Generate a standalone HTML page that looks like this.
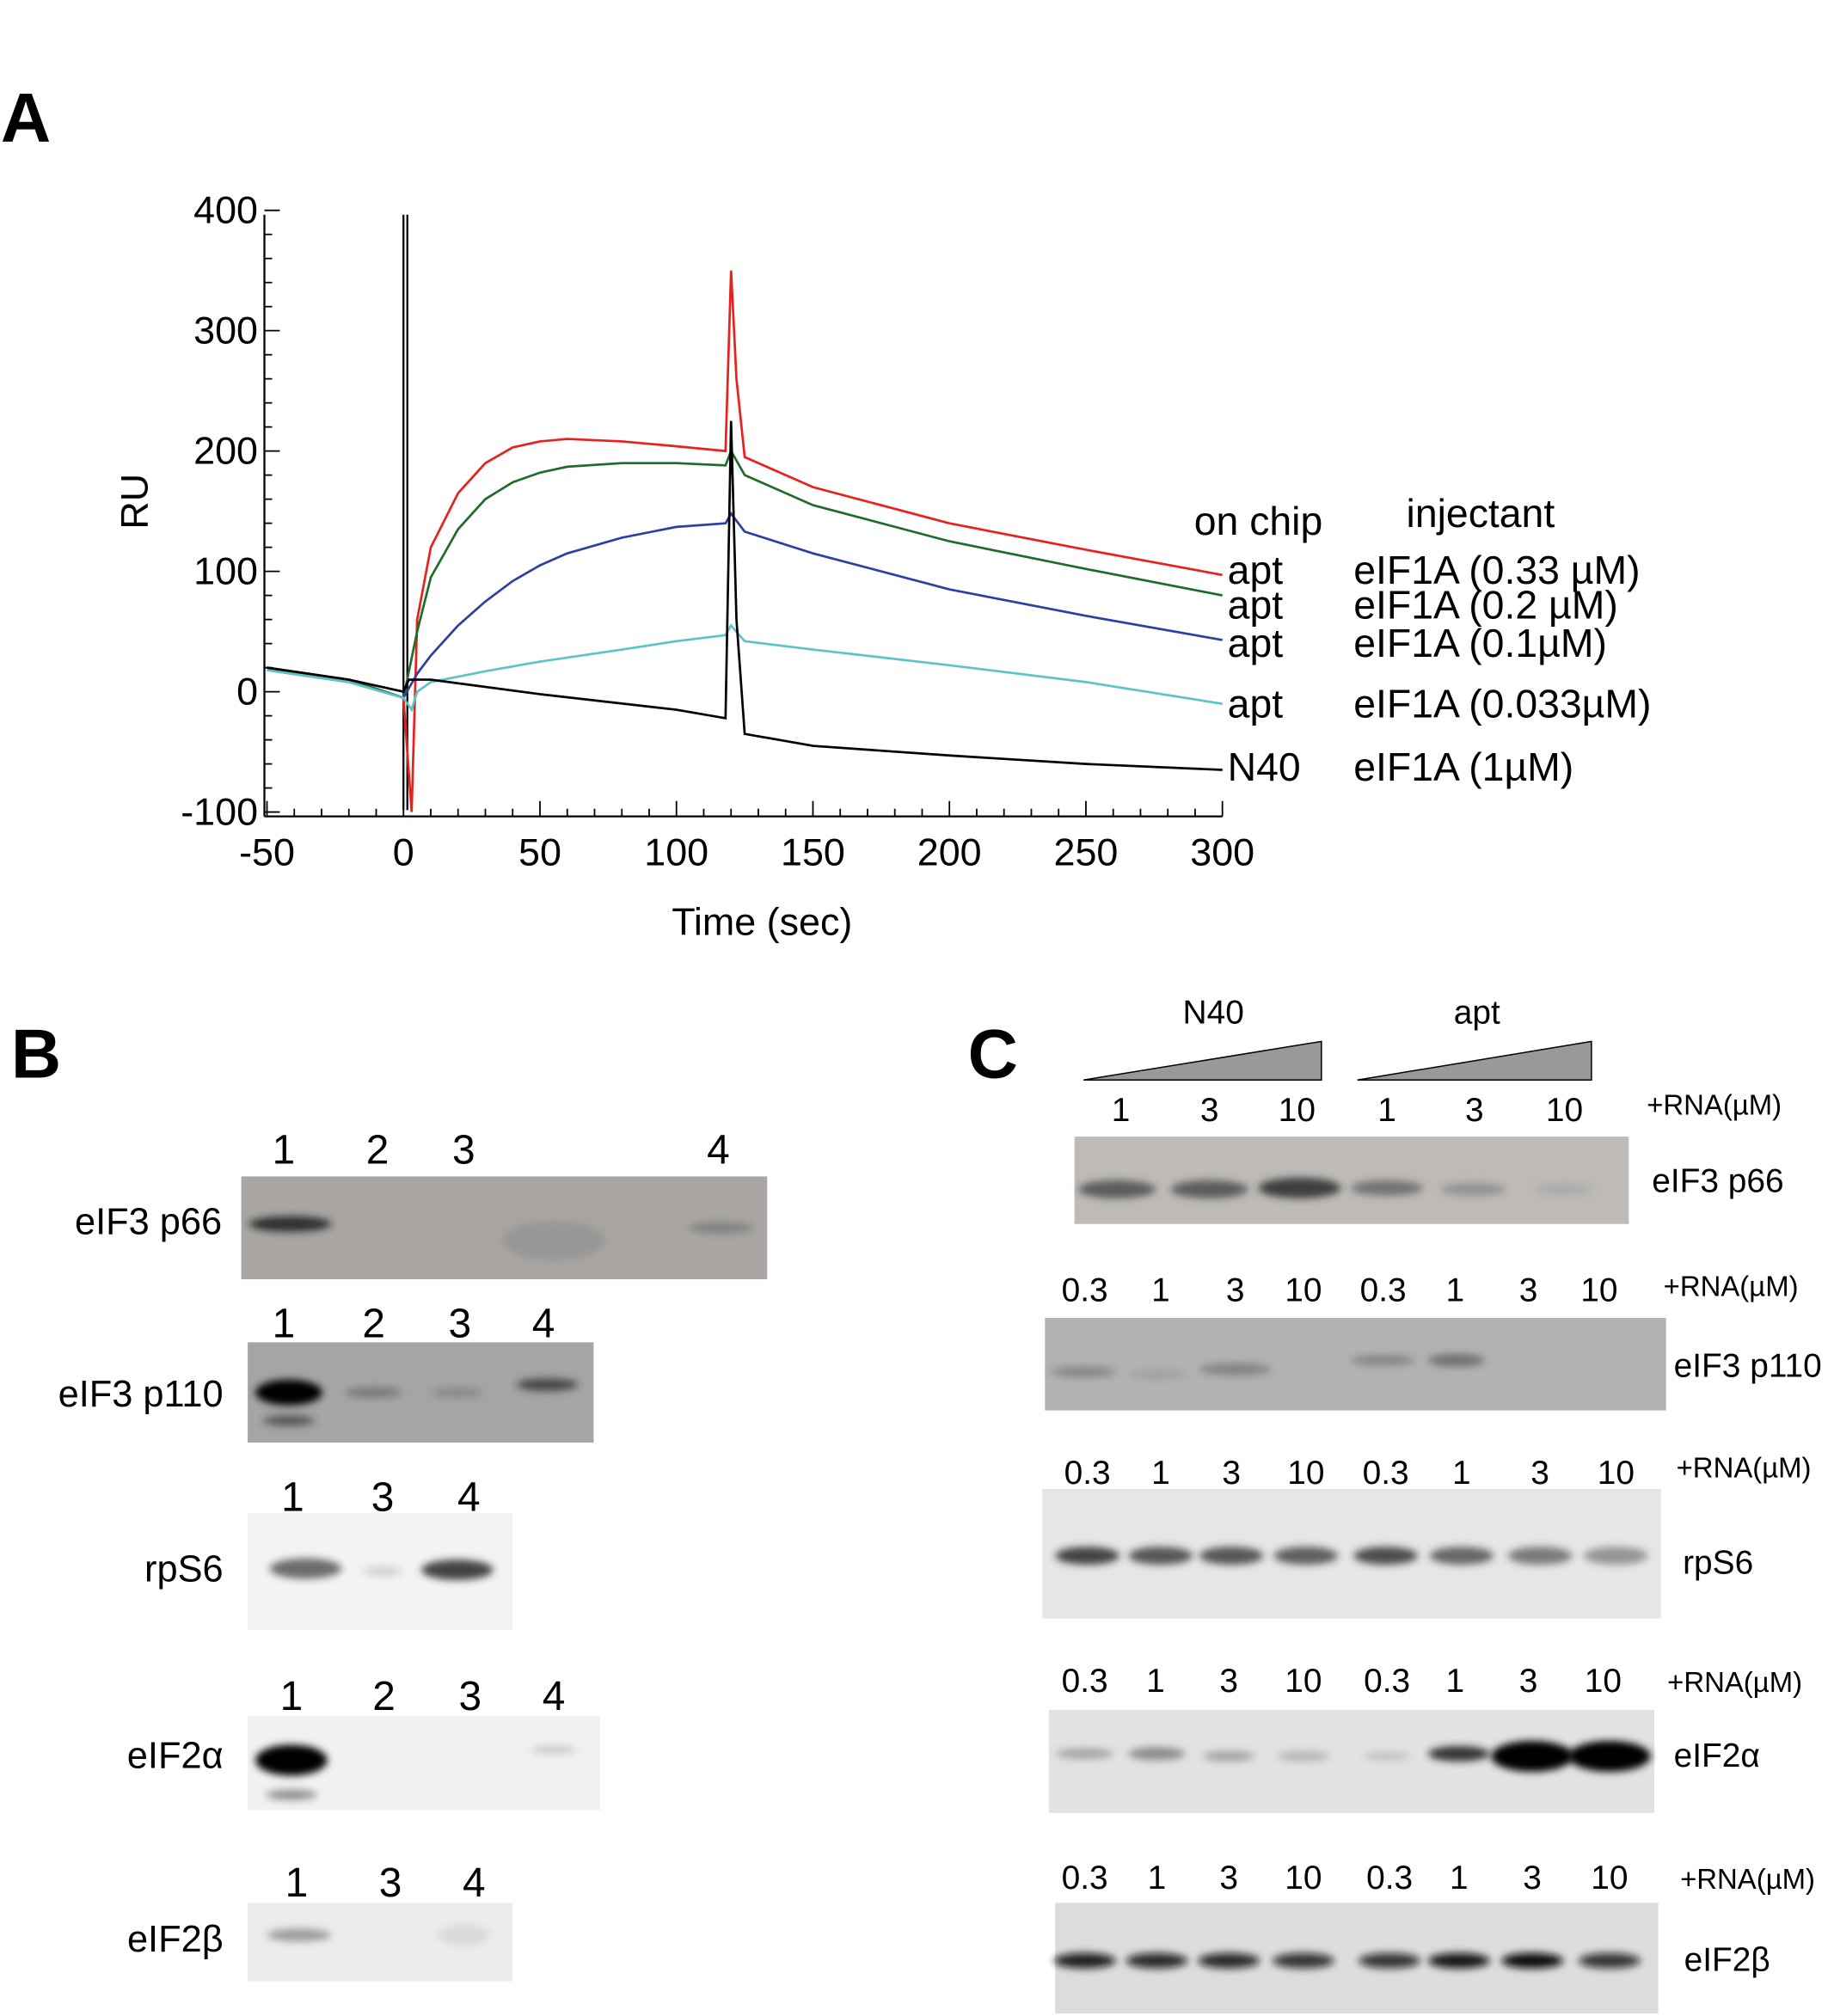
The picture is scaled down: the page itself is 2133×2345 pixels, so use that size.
<!DOCTYPE html>
<html><head><meta charset="utf-8"><style>
html,body{margin:0;padding:0;background:#fff;}
svg{display:block;font-family:"Liberation Sans",sans-serif;}
</style></head><body>
<svg id="fig" width="2133" height="2345" viewBox="0 0 1425 1568" xmlns="http://www.w3.org/2000/svg">
<defs>
<filter id="blur" x="-50%" y="-100%" width="200%" height="300%"><feGaussianBlur stdDeviation="3"/></filter>
</defs>
<text x="0" y="110" font-size="54" font-weight="bold">A</text>
<g id="chartA"></g>

<text x="8" y="838" font-size="54" font-weight="bold">B</text>
<text x="752" y="838" font-size="54" font-weight="bold">C</text>
<g id="blots"></g>
</svg>
<script>
const NS='http://www.w3.org/2000/svg';
function mk(tag,attrs,parent,txt){const e=document.createElementNS(NS,tag);for(const k in attrs)e.setAttribute(k,attrs[k]);if(txt!==undefined)e.textContent=txt;parent.appendChild(e);return e;}

// ---- chart data ----
const xTicks=[-50,0,50,100,150,200,250,300];
const yTicks=[-100,0,100,200,300,400];
const tRed=[-50,-20,0,3,5,10,20,30,40,50,60,80,100,118,120,122,125,150,200,250,300];
const vRed=[20,10,-5,-100,60,120,165,190,203,208,210,208,204,200,350,260,195,170,140,118,97];
const tGreen=[-50,-20,0,5,10,20,30,40,50,60,80,100,118,120,125,150,200,250,300];
const vGreen=[20,10,-5,50,95,135,160,174,182,187,190,190,188,200,180,155,125,102,80];
const tBlue=[-50,-20,0,5,10,20,30,40,50,60,80,100,118,120,125,150,200,250,300];
const vBlue=[18,8,-5,15,30,55,75,92,105,115,128,137,140,148,133,115,85,63,43];
const tCyan=[-50,-20,0,3,5,10,30,50,80,100,118,120,125,150,200,250,300];
const vCyan=[18,8,-5,-15,0,8,17,25,35,42,47,55,42,35,22,8,-10];
const tBlack=[-50,-20,0,2,10,50,100,118,120,122,125,150,200,250,300];
const vBlack=[20,10,0,10,10,-2,-15,-22,225,60,-35,-45,-53,-60,-65];
const seriesNames=['red-trace','green-trace','blue-trace','cyan-trace','black-trace'];
const seriesColors=['#e8211d','#1f6b2a','#2d3fa0','#5cc4c8','#000'];
const seriesT=[tRed,tGreen,tBlue,tCyan,tBlack];
const seriesV=[vRed,vGreen,vBlue,vCyan,vBlack];
const chipLabels=['apt','apt','apt','apt','N40'];
const injLabels=['eIF1A (0.33 \u00b5M)','eIF1A (0.2 \u00b5M)','eIF1A (0.1\u00b5M)','eIF1A (0.033\u00b5M)','eIF1A (1\u00b5M)'];
const labelY=[444,471,501,548,597];

const X=t=>207+(t+50)*(743/350);
const Y=v=>538-0.936*v;
const g=document.getElementById('chartA');

const ax=mk('line',{x1:205,y1:635,x2:950,y2:635,stroke:'#000','stroke-width':1.5},g);

const ay=mk('line',{x1:205,y1:167,x2:205,y2:635,stroke:'#000','stroke-width':1.5},g);

for(let t=-50;t<=300;t+=10){mk('line',{x1:X(t),y1:635,x2:X(t),y2:t%50===0?623:629,stroke:'#000','stroke-width':1.2},g);}
for(let v=-100;v<=400;v+=20){mk('line',{x1:205,y1:Y(v),x2:v%100===0?217:211,y2:Y(v),stroke:'#000','stroke-width':1.2},g);}
xTicks.forEach(t=>{const e=mk('text',{x:X(t),y:673,'font-size':30,'text-anchor':'middle'},g,String(t));
});
yTicks.forEach(v=>{const e=mk('text',{x:200,y:Y(v)+10,'font-size':30,'text-anchor':'end'},g,String(v));
});
const xt=mk('text',{x:592,y:727,'font-size':30,'text-anchor':'middle'},g,'Time (sec)');

const yt=mk('text',{x:0,y:0,'font-size':30,'text-anchor':'middle',transform:'translate(114,390) rotate(-90)'},g,'RU');


mk('line',{x1:X(0),y1:167,x2:X(0),y2:630,stroke:'#000','stroke-width':1.5},g);
mk('line',{x1:X(0)+3,y1:167,x2:X(0)+3,y2:630,stroke:'#000','stroke-width':1.5},g);

for(let i=0;i<5;i++){
  const d=seriesT[i].map((t,j)=>(j?'L':'M')+X(t).toFixed(1)+','+Y(seriesV[i][j]).toFixed(1)).join(' ');
  const p=mk('path',{d:d,fill:'none',stroke:seriesColors[i],'stroke-width':1.8},g);
  
  
  const c=mk('text',{x:954,y:labelY[i]+10,'font-size':31},g,chipLabels[i]);
  
  
  const inj=mk('text',{x:1052,y:labelY[i]+10,'font-size':31},g,injLabels[i]);
  
  
}
const h1=mk('text',{x:928,y:416,'font-size':31},g,'on chip');

const h2=mk('text',{x:1093,y:410,'font-size':31},g,'injectant');


// ---- blots ----
const b=document.getElementById('blots');
function blot(name,x,y,w,h,bg,bands){
  const grp=mk('g',{},b);
  
  
  mk('rect',{x:x,y:y,width:w,height:h,fill:bg},grp);
  bands.forEach(bd=>{mk('ellipse',{cx:bd[0],cy:bd[1],rx:bd[2],ry:bd[3],fill:bd[4],opacity:bd[5],filter:'url(#blur)'},grp);});
}
function txt(s,x,y,size,name,anchor){const e=mk('text',{x:x,y:y,'font-size':size,'text-anchor':anchor||'start'},b,s);
}

blot('blot-b-p66',187,915,409,80,'#a8a5a2',[[225,952,32,6,'#222',0.9],[430,965,40,15,'#888',0.5],[560,955,25,4,'#666',0.6]]);
txt('eIF3 p66',172,960,29,'row-label','end');
[['1',220],['2',293],['3',360],['4',558]].forEach(l=>txt(l[0],l[1],905,32,'lane-label','middle'));
blot('blot-b-p110',192,1044,269,78,'#a6a5a3',[[224,1083,26,10,'#000',1],[224,1105,20,4,'#333',0.7],[290,1083,22,4,'#666',0.7],[355,1083,20,4,'#777',0.6],[425,1077,24,5,'#333',0.8]]);
txt('eIF3 p110',173,1094,29,'row-label','end');
[['1',220],['2',290],['3',357],['4',422]].forEach(l=>txt(l[0],l[1],1040,32,'lane-label','middle'));
blot('blot-b-rps6',192,1177,206,91,'#f3f3f3',[[237,1220,28,8,'#555',0.85],[297,1222,15,4,'#bbb',0.6],[355,1221,28,8,'#333',0.9]]);
txt('rpS6',173,1230,29,'row-label','end');
[['1',227],['3',297],['4',364]].forEach(l=>txt(l[0],l[1],1175,32,'lane-label','middle'));
blot('blot-b-eif2a',192,1335,274,73,'#f1f1f1',[[226,1369,28,12,'#000',1],[226,1396,20,4,'#666',0.7],[430,1361,18,3,'#aaa',0.6]]);
txt('eIF2\u03b1',173,1375,29,'row-label','end');
[['1',226],['2',298],['3',365],['4',430]].forEach(l=>txt(l[0],l[1],1330,32,'lane-label','middle'));
blot('blot-b-eif2b',192,1480,206,61,'#ececec',[[232,1505,25,5,'#888',0.8],[360,1505,20,8,'#ccc',0.6]]);
txt('eIF2\u03b2',173,1518,29,'row-label','end');
[['1',230],['3',303],['4',368]].forEach(l=>txt(l[0],l[1],1475,32,'lane-label','middle'));

txt('N40',943,796,26,'group-label-n40','middle');
txt('apt',1148,796,26,'group-label-apt','middle');
const t1=mk('polygon',{points:'842,840 1027,810 1027,840',fill:'#999',stroke:'#000','stroke-width':1},b);

const t2=mk('polygon',{points:'1055,840 1237,810 1237,840',fill:'#999',stroke:'#000','stroke-width':1},b);

[['1',871],['3',940],['10',1008],['1',1078],['3',1146],['10',1216]].forEach(l=>txt(l[0],l[1],872,26,'lane-label','middle'));
txt('+RNA(\u00b5M)',1280,867,22,'rna-label');
blot('blot-c-p66',835,884,431,68,'#bdbab7',[[868,925,30,7,'#444',0.8],[940,925,30,7,'#444',0.8],[1010,924,32,8,'#333',0.9],[1078,924,28,6,'#555',0.7],[1145,925,25,5,'#777',0.6],[1215,925,22,4,'#999',0.5]]);
txt('eIF3 p66',1284,927,26,'row-label');

const lanesX=[[843,902,960,1013,1075,1131,1188,1243],[845,902,957,1015,1077,1136,1197,1256],[843,898,955,1013,1078,1131,1188,1246],[843,899,955,1013,1080,1134,1191,1251]];
const ys=[1012,1154,1316,1469];
const rna=[[1293,1008],[1303,1149],[1296,1316],[1306,1469]];
lanesX.forEach((arr,i)=>{const lab=['0.3','1','3','10','0.3','1','3','10'];arr.forEach((x,j)=>txt(lab[j],x,ys[i],26,'lane-label','middle'));txt('+RNA(\u00b5M)',rna[i][0],rna[i][1],22,'rna-label');});

blot('blot-c-p110',812,1025,483,72,'#b3b2b0',[[842,1067,25,4,'#666',0.6],[900,1069,22,3,'#888',0.5],[960,1065,28,5,'#666',0.6],[1075,1058,25,4,'#666',0.6],[1132,1058,22,5,'#555',0.7]]);
txt('eIF3 p110',1301,1071,26,'row-label');
const rb=[0.9,0.8,0.8,0.75,0.85,0.7,0.6,0.45].map((o,j)=>[lanesX[1][j],1210,25,7,'#333',o]);
blot('blot-c-rps6',810,1158,481,101,'#e8e6e4',rb);
txt('rpS6',1308,1224,26,'row-label');
const ab=[[843,1364,22,4,'#777',0.6],[899,1364,22,5,'#666',0.7],[955,1366,20,4,'#777',0.6],[1013,1366,20,4,'#888',0.5],[1078,1366,18,3,'#999',0.5],[1134,1364,24,6,'#222',0.9],[1191,1366,32,12,'#000',1],[1251,1366,32,12,'#000',1]];
blot('blot-c-eif2a',815,1330,471,80,'#e4e2e0',ab);
txt('eIF2\u03b1',1301,1374,26,'row-label');
const bb=[0.9,0.85,0.85,0.8,0.8,0.95,1,0.8].map((o,j)=>[lanesX[3][j],1525,24,6,'#111',o]);
blot('blot-c-eif2b',820,1480,469,86,'#dedcda',bb);
txt('eIF2\u03b2',1309,1533,26,'row-label');
</script>
</body></html>
